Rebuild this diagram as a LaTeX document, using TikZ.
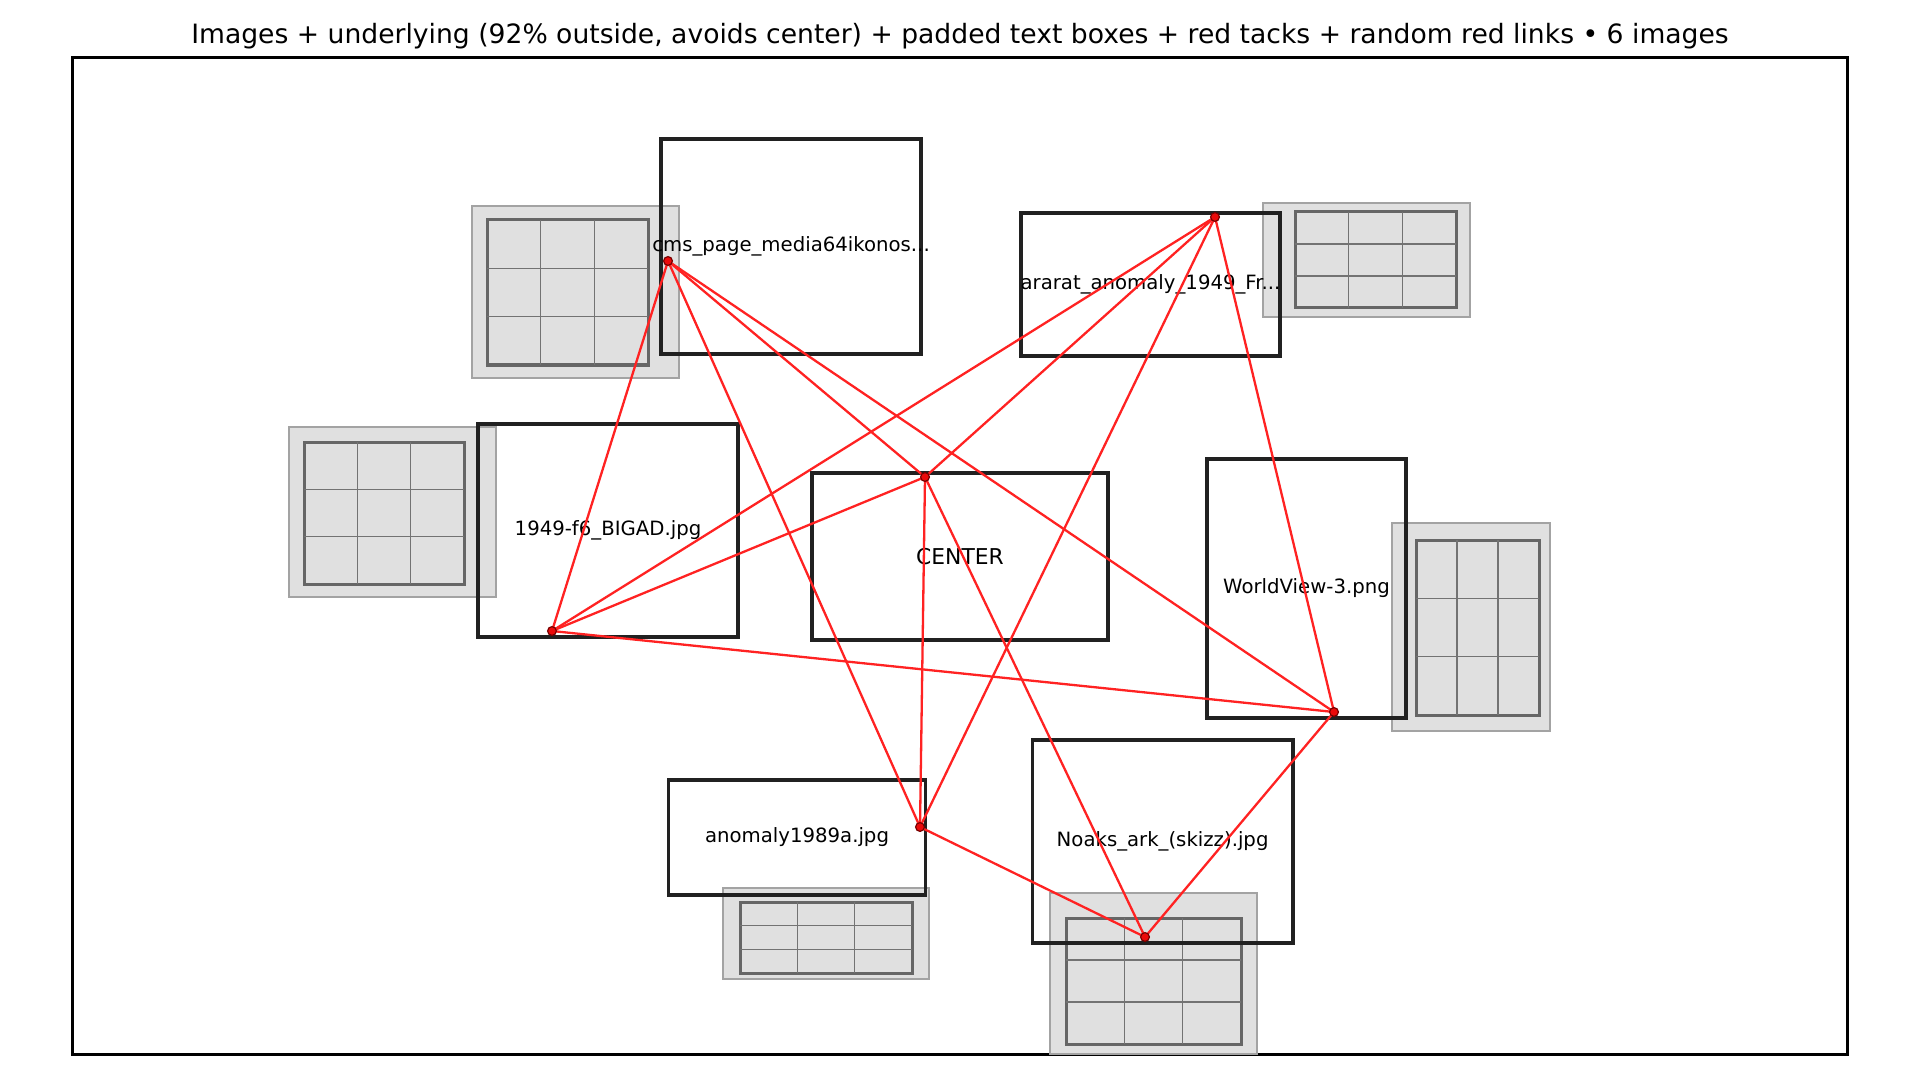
\documentclass[tikz,border=0pt]{standalone}
\usepackage{fontspec}
\setmainfont{DejaVu Sans}
\definecolor{linkred}{RGB}{255,34,34}
\definecolor{tackred}{RGB}{235,10,10}
\definecolor{tackrim}{RGB}{120,0,0}
\begin{document}
\begin{tikzpicture}[x=0.5pt, y=-0.5pt,
    textbox/.style={draw=black!87, line width=1.6pt, inner sep=0pt, font=\fontsize{9.85}{12}\selectfont},
    underlay/.style={fill=black!12, draw=black!36, line width=1pt},
    imgframe/.style={fill=black!12, draw=black!60, line width=1.5pt},
    imggrid/.style={draw=black!55, line width=0.75pt},
    link/.style={draw=linkred, line width=1.15pt},
    tack/.style={fill=tackred, draw=tackrim, line width=0.6pt}]
    \useasboundingbox (0,0) rectangle (1920,1080);
    \node[font=\fontsize{13.3}{16}\selectfont] (title) at (960,36)
        {Images + underlying (92\% outside, avoids center) + padded text boxes + red tacks + random red links • 6 images};
    \draw[line width=1.5pt] (72,58) rectangle (1847,1054);
    % Underlying images (outer x1/y1/x2/y2, inner x1/y1/x2/y2)
    \foreach \ax/\ay/\bx/\by/\cx/\cy/\dx/\dy in {
        472/206/679/378/487/220/648/365,
        1263/203/1470/317/1295/212/1456/308,
        289/427/496/597/304/442/464/584,
        1392/523/1550/731/1416/540/1539/715,
        723/888/929/979/740/902/912/973,
        1050/893/1257/1054/1066/918/1241/1044} {
        \draw[underlay] (\ax,\ay) rectangle (\bx,\by);
        \draw[imgframe] (\cx,\cy) rectangle (\dx,\dy);
        \pgfmathsetmacro\gxa{\cx+(\dx-\cx)/3}
        \pgfmathsetmacro\gxb{\cx+2*(\dx-\cx)/3}
        \pgfmathsetmacro\gya{\cy+(\dy-\cy)/3}
        \pgfmathsetmacro\gyb{\cy+2*(\dy-\cy)/3}
        \draw[imggrid] (\gxa,\cy) -- (\gxa,\dy) (\gxb,\cy) -- (\gxb,\dy)
            (\cx,\gya) -- (\dx,\gya) (\cx,\gyb) -- (\dx,\gyb);
    }
    % Padded text boxes (long names overflow the box)
    \node[textbox, minimum width=130pt, minimum height=107.5pt] (cms) at (791,246.5) {\makebox[0pt]{cms\_page\_media64ikonos...}};
    \node[textbox, minimum width=129.5pt, minimum height=71.5pt] (ararat) at (1150.5,284.5) {\makebox[0pt]{ararat\_anomaly\_1949\_Fr...}};
    \node[textbox, minimum width=130pt, minimum height=106.5pt] (bigad) at (608,530.5) {1949-f6\_BIGAD.jpg};
    \node[textbox, line width=2pt, minimum width=148pt, minimum height=83.5pt, font=\fontsize{10.9}{13}\selectfont] (center) at (960,556.5) {CENTER};
    \node[textbox, minimum width=99.5pt, minimum height=129.5pt] (worldview) at (1306.5,588.5) {\makebox[0pt]{WorldView-3.png}};
    \node[textbox, minimum width=128.3pt, minimum height=57.5pt] (anomaly) at (797,837.5) {anomaly1989a.jpg};
    \node[textbox, minimum width=130.3pt, minimum height=101.5pt] (noaks) at (1162.6,841.5) {Noaks\_ark\_(skizz).jpg};
    % Tacks
    \coordinate (cmsT) at (668,261);
    \coordinate (araratT) at (1215,217);
    \coordinate (bigadT) at (552,631);
    \coordinate (centerT) at (925,477);
    \coordinate (worldviewT) at (1334,712);
    \coordinate (anomalyT) at (920,827);
    \coordinate (noaksT) at (1145,937);
    % Random red links
    \draw[link] (cmsT) -- (bigadT);
    \draw[link] (cmsT) -- (anomalyT);
    \draw[link] (cmsT) -- (centerT);
    \draw[link] (cmsT) -- (worldviewT);
    \draw[link] (araratT) -- (bigadT);
    \draw[link] (araratT) -- (centerT);
    \draw[link] (araratT) -- (anomalyT);
    \draw[link] (araratT) -- (worldviewT);
    \draw[link] (centerT) -- (bigadT);
    \draw[link] (centerT) -- (anomalyT);
    \draw[link] (centerT) -- (noaksT);
    \draw[link] (bigadT) -- (worldviewT);
    \draw[link] (anomalyT) -- (noaksT);
    \draw[link] (worldviewT) -- (noaksT);
    \foreach \t in {cmsT, araratT, bigadT, centerT, worldviewT, anomalyT, noaksT}
        \filldraw[tack] (\t) circle (2.2pt);
\end{tikzpicture}
\end{document}
